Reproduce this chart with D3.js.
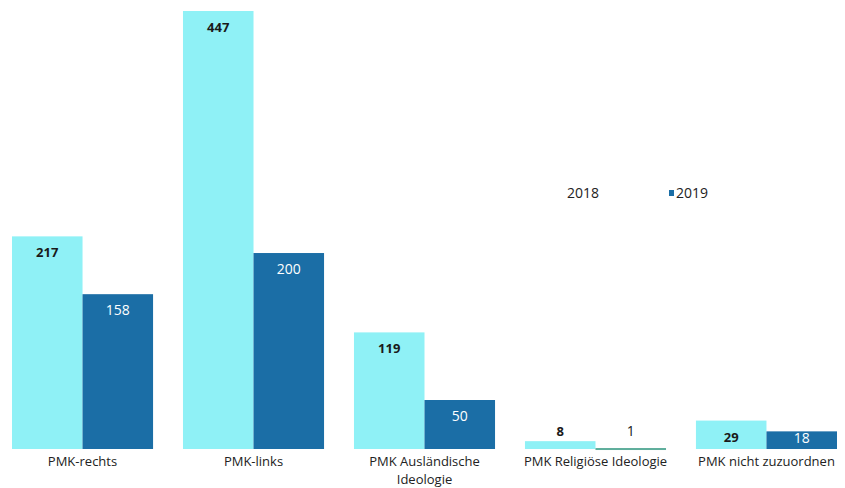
<!DOCTYPE html>
<html>
<head>
<meta charset="utf-8">
<script src="https://cdn.jsdelivr.net/npm/d3@7"></script>
<style>
  html, body { margin: 0; padding: 0; background: #ffffff; }
  svg { display: block; font-family: "Open Sans", Lato, sans-serif; }
</style>
</head>
<body>
<svg id="chart" width="845" height="488"></svg>
<script>
const categories = ["PMK-rechts", "PMK-links", "PMK Ausländische Ideologie", "PMK Religiöse Ideologie", "PMK nicht zuzuordnen"];
const categoryLines = [["PMK-rechts"], ["PMK-links"], ["PMK Ausländische", "Ideologie"], ["PMK Religiöse Ideologie"], ["PMK nicht zuzuordnen"]];
const seriesNames = ["2018", "2019"];
const values2018 = [217, 447, 119, 8, 29];
const values2019 = [158, 200, 50, 1, 18];

const colors = { "2018": "#8ff1f6", "2019": "#1b6ea6" };

const svg = d3.select("#chart");
const baseline = 449;

const x0 = d3.scaleBand().domain(categories).range([12, 837]).paddingInner(0.175).paddingOuter(0);
const x1 = d3.scaleBand().domain(seriesNames).range([0, x0.bandwidth()]).padding(0);
const y = d3.scaleLinear().domain([0, 447]).range([baseline, 11]);

const data = [];
categories.forEach((c, i) => {
  data.push({ cat: c, s: "2018", v: values2018[i] });
  data.push({ cat: c, s: "2019", v: values2019[i] });
});

const g = svg.append("g");
g.selectAll("rect.bar").data(data).join("rect")
  .attr("class", "bar")
  .attr("x", d => x0(d.cat) + x1(d.s))
  .attr("width", x1.bandwidth())
  .attr("y", d => y(d.v))
  .attr("height", d => Math.max(2, baseline - y(d.v)))
  .attr("fill", d => d.v === 1 ? "#5fae9c" : colors[d.s]);

g.selectAll("text.val").data(data).join("text")
  .attr("class", "val")
  .attr("x", d => x0(d.cat) + x1(d.s) + x1.bandwidth() / 2)
  .attr("y", d => (baseline - y(d.v) < 12) ? 436 : Math.min(y(d.v) + 21, 443))
  .attr("text-anchor", "middle")
  .attr("font-size", d => d.s === "2018" ? 13 : 14)
  .attr("font-weight", d => d.s === "2018" ? 700 : 400)
  .attr("fill", d => (d.s === "2019" && baseline - y(d.v) > 12) ? "#ffffff" : "#1a1a1a")
  .text(d => d.v);

// category labels (one text per line)
const catLines = [];
categories.forEach((c, i) => {
  categoryLines[i].forEach((line, j) => catLines.push({ cat: c, line: line, j: j }));
});
g.selectAll("text.cat").data(catLines).join("text")
  .attr("class", "cat")
  .attr("x", d => x0(d.cat) + x0.bandwidth() / 2)
  .attr("y", d => 466 + d.j * 18)
  .attr("text-anchor", "middle")
  .attr("font-size", 13)
  .attr("fill", "#222")
  .text(d => d.line);

// legend
const legend = svg.append("g");
legend.append("text").attr("x", 567).attr("y", 198).attr("font-size", 14).attr("fill", "#222").text(seriesNames[0]);
legend.append("rect").attr("x", 669).attr("y", 190).attr("width", 5).attr("height", 6).attr("fill", colors["2019"]);
legend.append("text").attr("x", 676).attr("y", 198).attr("font-size", 14).attr("fill", "#222").text(seriesNames[1]);
</script>
</body>
</html>
